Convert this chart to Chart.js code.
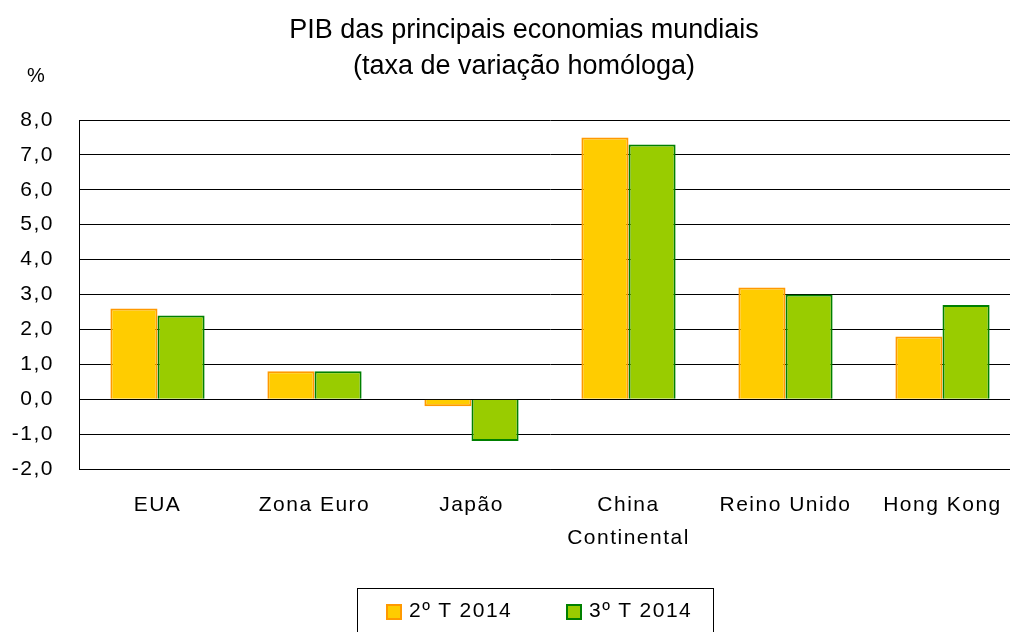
<!DOCTYPE html>
<html lang="pt">
<head>
  <meta charset="UTF-8" />
  <title>PIB das principais economias mundiais</title>
  <script src="https://cdn.jsdelivr.net/npm/chart.js"></script>
  <style>
    html, body { margin: 0; padding: 0; background: #fff; overflow: hidden; }
    body { font-family: "Liberation Sans", Arial, sans-serif; color: #000; }
    #page { position: relative; width: 1010px; height: 632px; overflow: hidden; }
    /* plot runs a little past the right edge, as in the original crop */
    #wrap { position: absolute; left: 0; top: 0; width: 1021px; height: 632px; }
    #title { position: absolute; left: 0; width: 1048px; top: 11px; text-align: center;
             font-size: 27px; line-height: 36px; }
    #unit { position: absolute; left: 27px; top: 63px; font-size: 20px; line-height: 24px; }
    #legend { position: absolute; left: 357px; top: 588px; width: 355px; height: 60px;
              border: 1px solid #000; }
    .item { position: absolute; top: 9px; font-size: 21px; line-height: 24px; letter-spacing: 1.5px;
            white-space: nowrap; }
    .swatch { position: absolute; left: 0; top: 6px; width: 12px; height: 12px; border: 2px solid; }
    .item span.txt { position: absolute; left: 23px; top: 0; }
  </style>
</head>
<body>
  <div id="page">
    <div id="wrap"><canvas id="gdpChart"></canvas></div>
    <div id="title">PIB das principais economias mundiais<br>(taxa de variação homóloga)</div>
    <div id="unit">%</div>
    <div id="legend"></div>
  </div>

  <script>
    // data
    const categories = ['EUA', 'Zona Euro', 'Japão', ['China', 'Continental'], 'Reino Unido', 'Hong Kong'];
    const seriesNames = ['2º T 2014', '3º T 2014'];
    const q2Values = [2.6, 0.8, -0.2, 7.5, 3.2, 1.8];
    const q3Values = [2.4, 0.8, -1.2, 7.3, 3.0, 2.7];
    const yTicks = [8, 7, 6, 5, 4, 3, 2, 1, 0, -1, -2];

    const fills = ['#FFCC00', '#99CC00'];
    const edges = ['#FF9900', '#008000'];
    const FONT = '"Liberation Sans", Arial, sans-serif';

    // the labels in the original are set a bit loosely
    const spacing = {
      id: 'spacing',
      beforeUpdate(chart) { chart.ctx.letterSpacing = '1.5px'; },
      beforeDraw(chart) { chart.ctx.letterSpacing = '1.5px'; }
    };

    const chart = new Chart(document.getElementById('gdpChart'), {
      type: 'bar',
      data: {
        labels: categories,
        datasets: seriesNames.map((name, i) => ({
          label: name,
          data: i === 0 ? q2Values : q3Values,
          backgroundColor: fills[i],
          borderColor: edges[i],
          borderWidth: 2,
          categoryPercentage: 0.6,
          barPercentage: 1.0
        }))
      },
      options: {
        responsive: true,
        maintainAspectRatio: false,
        animation: false,
        layout: { padding: { left: 0, right: 0, top: 120, bottom: 53 } },
        plugins: {
          legend: { display: false },
          title: { display: false },
          tooltip: { enabled: false }
        },
        scales: {
          x: {
            grid: { display: false, drawTicks: false },
            border: { display: true, color: '#000', width: 1 },
            ticks: { color: '#000', font: { family: FONT, size: 21, lineHeight: 1.6 }, padding: 19, maxRotation: 0 },
            afterFit(scale) {
              scale.height = 110;
              scale.paddingLeft = 0;
              scale.paddingRight = 0;
            }
          },
          y: {
            min: -2,
            max: 8,
            afterBuildTicks(scale) { scale.ticks = yTicks.map(v => ({ value: v })); },
            grid: { color: '#000', lineWidth: 1, drawTicks: false },
            border: { display: true, color: '#000', width: 1 },
            ticks: {
              color: '#000',
              font: { family: FONT, size: 21 },
              padding: 25,
              callback: v => v.toFixed(1).replace('.', ',')
            },
            afterFit(scale) {
              scale.width = 79;
              scale.paddingTop = 0;
              scale.paddingBottom = 0;
            }
          }
        }
      },
      plugins: [spacing]
    });

    // legend in a box under the chart
    const legend = document.getElementById('legend');
    const itemLeft = [28, 208];
    chart.data.datasets.forEach((ds, i) => {
      const item = document.createElement('div');
      item.className = 'item';
      item.style.left = itemLeft[i] + 'px';
      item.innerHTML = '<span class="swatch"></span><span class="txt"></span>';
      item.querySelector('.swatch').style.background = ds.backgroundColor;
      item.querySelector('.swatch').style.borderColor = ds.borderColor;
      item.querySelector('.txt').textContent = ds.label;
      legend.appendChild(item);
    });
  </script>
</body>
</html>
